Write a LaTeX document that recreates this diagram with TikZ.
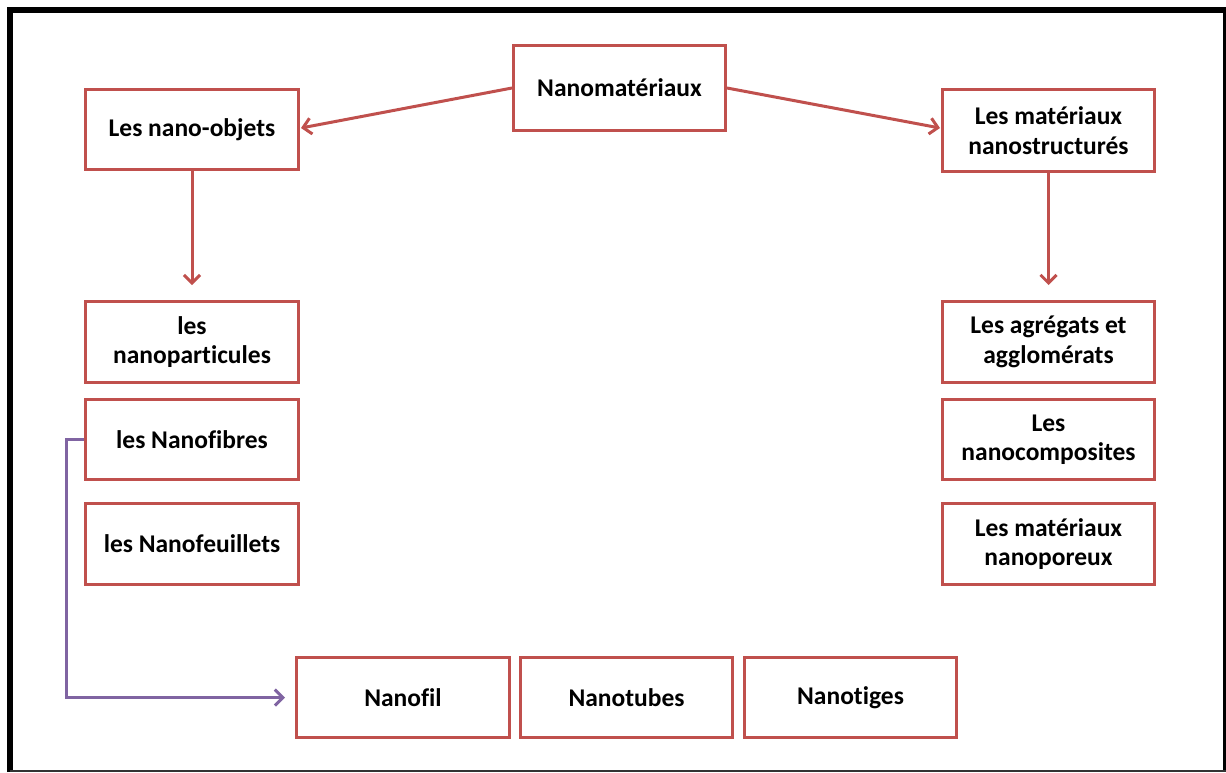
\documentclass[tikz,border=0pt]{standalone}
\usepackage{fontspec}
\setmainfont[Ligatures={NoCommon}]{Carlito}
\usetikzlibrary{arrows.meta,calc}
\definecolor{boxred}{HTML}{C0504D}
\definecolor{lilac}{HTML}{8064A2}
\tikzset{
  box/.style={draw=boxred, line width=3pt, fill=white, minimum width=212pt, minimum height=80pt,
    align=center, inner sep=0pt, font=\fontsize{25.5}{29.5}\selectfont\bfseries, anchor=north west},
  redarrow/.style={draw=boxred, line width=3pt, -{Straight Barb[length=8pt,width=16pt,line width=3pt]}},
  purplearrow/.style={draw=lilac, line width=3pt, -{Straight Barb[length=8pt,width=16pt,line width=3pt]}},
}
\begin{document}
\begin{tikzpicture}[x=1pt,y=-1pt]
\useasboundingbox (0,0) rectangle (1226,772);
\fill[white] (0,0) rectangle (1226,772);
% frame
\draw[line width=6pt] (10,772) -- (10,10) -- (1226,10);
\draw[line width=3pt] (1224.5,10) -- (1224.5,772);
\draw[line width=2pt, black!80] (10,771) -- (1226,771);
% nodes
\node[box, minimum width=212pt, minimum height=85pt] (nm) at (512,44) {Nanomatériaux};
\node[box, minimum width=213pt] (no) at (84,88) {Les nano-objets};
\node[box, minimum width=212pt, minimum height=82pt] (ms) at (941,88) {Les matériaux\\nanostructurés};
\node[box, minimum width=213pt, minimum height=81pt] (np) at (84,300) {les\\nanoparticules};
\node[box, minimum width=213pt] (nf) at (84,398) {les Nanofibres};
\node[box, minimum width=213pt, minimum height=81pt] (nfe) at (84,502) {les Nanofeuillets};
\node[box, minimum width=212pt, minimum height=81pt] (ag) at (941,300) {Les agrégats et\\agglomérats};
\node[box, minimum width=212pt] (nc) at (941,398) {Les\\nanocomposites};
\node[box, minimum width=212pt, minimum height=81pt] (mp) at (941,502) {Les matériaux\\nanoporeux};
\node[box, minimum width=213pt] (fil) at (295,656) {Nanofil};
\node[box, minimum width=212pt] (tub) at (519,656) {Nanotubes};
\node[box, minimum width=212pt] (tig) at (743,656) {Nanotiges};
% connectors
\coordinate (a1) at ($(nm.north west)+(0,44)$);
\coordinate (a2) at ($(nm.north east)+(0,44)$);
\draw[redarrow] (a1) -- ($(no.north east)+(1,40)$);
\draw[redarrow] (a2) -- ($(ms.north west)+(-1,40)$);
\draw[redarrow] (no.south) -- ++(0,114);
\draw[redarrow] (ms.south) -- ++(0,112);
\draw[purplearrow] (nf.west) -- ++(-18,0) |- ($(fil.west)+(-10,0)$);
\end{tikzpicture}
\end{document}
